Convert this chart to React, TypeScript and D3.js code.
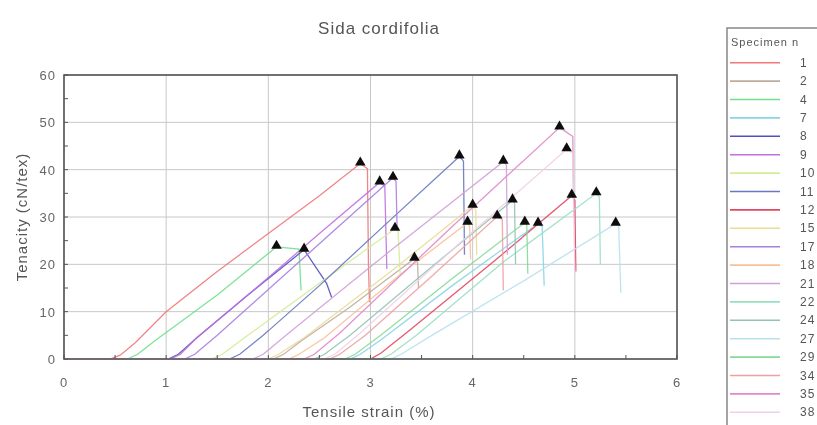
import React from 'react'
import * as d3 from 'd3'

// specimen numbers, legend order
const specimens = ['1', '2', '4', '7', '8', '9', '10', '11', '12', '15', '17', '18', '21', '22', '24', '27', '29', '34', '35', '38']
const colors = ['#f07878', '#c0ac9c', '#70e08c', '#88d4e4', '#5050c0', '#c070e0', '#d4ec98', '#6878c0', '#e04860', '#e8dc98',
  '#a880e0', '#f8c098', '#d0a0d8', '#98e0c0', '#90c4b4', '#b8e0f0', '#88d898', '#f0a0a0', '#e088c8', '#f0d0e8']

// [strain %, tenacity cN/tex]
const s1 = [[0, 0], [0.45, 0], [0.55, 0.8], [0.7, 3.5], [1.0, 10], [1.5, 18.5], [2.0, 26.5], [2.5, 34.5], [2.9, 41.3], [2.97, 40.2], [2.98, 20], [2.99, 12]]
const s2 = [[0, 0], [2.05, 0], [2.15, 1], [2.3, 3.5], [2.8, 11], [3.43, 21.2], [3.46, 20.5], [3.47, 15]]
const s4 = [[0, 0], [0.62, 0], [0.72, 1], [0.9, 4], [1.5, 13.5], [2.08, 23.7], [2.3, 23.2], [2.32, 14.5]]
const s7 = [[0, 0], [2.8, 0], [2.9, 1], [3.1, 4], [3.8, 15.5], [4.64, 28.6], [4.68, 28], [4.7, 15.5]]
const s8 = [[0, 0], [1.02, 0], [1.12, 1], [1.3, 4.5], [1.8, 13.5], [2.35, 23.1], [2.57, 16], [2.62, 13]]
const s9 = [[0, 0], [1.04, 0], [1.14, 1], [1.3, 4.5], [1.8, 13.5], [2.5, 26.5], [3.09, 37.3], [3.14, 36.5], [3.16, 19]]
const s10 = [[0, 0], [1.45, 0], [1.55, 1], [1.8, 5], [2.5, 16], [3.24, 27.5], [3.27, 27], [3.29, 18]]
const s11 = [[0, 0], [1.62, 0], [1.72, 1], [1.95, 5], [2.5, 15.5], [3.2, 29.5], [3.87, 42.8], [3.91, 41.8], [3.92, 22]]
const s12 = [[0, 0], [3.0, 0], [3.1, 1.2], [3.35, 5.5], [4.2, 20.5], [4.97, 34.5], [5.0, 33.5], [5.01, 18.5]]
const s15 = [[0, 0], [2.0, 0], [2.1, 1], [2.35, 4.5], [3.2, 18.5], [4.0, 32.4], [4.03, 31.5], [4.04, 22]]
const s17 = [[0, 0], [1.18, 0], [1.28, 1], [1.5, 5], [2.3, 20.5], [3.22, 38.3], [3.25, 37.5], [3.26, 28]]
const s18 = [[0, 0], [2.2, 0], [2.3, 1], [2.55, 4.5], [3.3, 18], [3.95, 28.8], [3.97, 28], [3.98, 21]]
const s21 = [[0, 0], [1.85, 0], [1.95, 1], [2.2, 5.5], [3.2, 23], [4.3, 41.7], [4.33, 41], [4.34, 22]]
const s22 = [[0, 0], [3.1, 0], [3.2, 1], [3.45, 5], [4.3, 20.5], [5.21, 35], [5.24, 34.2], [5.25, 20]]
const s24 = [[0, 0], [2.45, 0], [2.55, 1], [2.8, 5], [3.6, 19.5], [4.39, 33.5], [4.41, 33], [4.42, 20]]
const s27 = [[0, 0], [3.2, 0], [3.3, 1], [3.6, 5], [4.5, 16.5], [5.4, 28.6], [5.43, 28], [5.45, 14]]
const s29 = [[0, 0], [2.75, 0], [2.85, 1], [3.1, 5], [3.8, 17], [4.51, 28.8], [4.53, 28.2], [4.54, 18]]
const s34 = [[0, 0], [2.6, 0], [2.7, 1], [2.95, 5], [3.6, 17.5], [4.24, 30.1], [4.29, 29.5], [4.3, 14.5]]
const s35 = [[0, 0], [2.35, 0], [2.45, 1], [2.7, 5.5], [3.8, 28], [4.85, 48.9], [4.9, 48.2], [4.98, 47], [4.99, 30]]
const s38 = [[0, 0], [2.55, 0], [2.65, 1], [2.9, 5.5], [3.9, 25], [4.92, 44.3], [4.98, 43.5], [5.0, 18]]

const curves = [s1, s2, s4, s7, s8, s9, s10, s11, s12, s15, s17, s18, s21, s22, s24, s27, s29, s34, s35, s38]

const xTicks = [0, 1, 2, 3, 4, 5, 6]
const yTicks = [0, 10, 20, 30, 40, 50, 60]
const xMinor = [0.5, 1.5, 2.5, 3.5, 4.5, 5.5]
const yMinor = [5, 15, 25, 35, 45, 55]

const W = 817, H = 425
const font = '"Liberation Sans", Arial, sans-serif'

export default function App() {
  const x = d3.scaleLinear([0, 6], [64, 677])
  const y = d3.scaleLinear([0, 60], [359, 75])
  const line = d3.line<number[]>().x(d => x(d[0])).y(d => y(d[1]))
  const tri = d3.symbol(d3.symbolTriangle, 48)()
  const [x0, x1] = x.range()
  const [y0, y1] = y.range()

  return (
    <svg width={W} height={H} style={{ position: 'absolute', left: 0, top: 0, background: '#fff' }} fontFamily={font}>
      <defs>
        <filter id="soft" x="-5%" y="-5%" width="110%" height="110%">
          <feGaussianBlur stdDeviation="0.45" />
        </filter>
      </defs>
      <g filter="url(#soft)">
        <text x={379} y={34} textAnchor="middle" fontSize={17} letterSpacing={1} fill="#555">Sida cordifolia</text>

        {/* grid */}
        {xTicks.map(t => <line key={'gx' + t} x1={x(t)} x2={x(t)} y1={y1} y2={y0} stroke="#c8c8c8" />)}
        {yTicks.map(t => <line key={'gy' + t} x1={x0} x2={x1} y1={y(t)} y2={y(t)} stroke="#c8c8c8" />)}

        {/* curves */}
        {curves.map((c, i) => (
          <path key={specimens[i]} d={line(c) || ''} fill="none" stroke={colors[i]} strokeWidth={1.3} strokeOpacity={0.9} />
        ))}
        {curves.map((c, i) => {
          const p = d3.greatest(c, d => d[1])!
          return <path key={'m' + i} d={tri || ''} transform={`translate(${x(p[0])},${y(p[1]) - 1})`} fill="#111" />
        })}

        {/* frame + ticks */}
        <rect x={x0} y={y1} width={x1 - x0} height={y0 - y1} fill="none" stroke="#555" strokeWidth={1.6} />
        {xTicks.concat(xMinor).map(t => <line key={'tx' + t} x1={x(t)} x2={x(t)} y1={y0} y2={y0 - 4} stroke="#555" />)}
        {yTicks.concat(yMinor).map(t => <line key={'ty' + t} x1={x0} x2={x0 + 4} y1={y(t)} y2={y(t)} stroke="#555" />)}
        {xTicks.map(t => <text key={'lx' + t} x={x(t)} y={387} textAnchor="middle" fontSize={13} letterSpacing={1} fill="#666">{t}</text>)}
        {yTicks.map(t => <text key={'ly' + t} x={56} y={y(t) + 5} textAnchor="end" fontSize={13} letterSpacing={1} fill="#666">{t}</text>)}

        <text x={369} y={417} textAnchor="middle" fontSize={15} letterSpacing={1} fill="#555">Tensile strain (%)</text>
        <text transform="translate(27,217) rotate(-90)" textAnchor="middle" fontSize={15} letterSpacing={1} fill="#555">Tenacity (cN/tex)</text>

        {/* legend */}
        <rect x={727} y={28} width={120} height={420} fill="#fff" stroke="#888" strokeWidth={1.5} />
        <text x={731} y={46} fontSize={11} letterSpacing={1} fill="#555">Specimen n</text>
        {specimens.map((s, i) => {
          const ly = 62.7 + i * 18.4
          return (
            <g key={'lg' + s}>
              <line x1={730} x2={780} y1={ly} y2={ly} stroke={colors[i]} strokeWidth={1.6} />
              <text x={800} y={ly + 4} fontSize={12} letterSpacing={1} fill="#555">{s}</text>
            </g>
          )
        })}
      </g>
    </svg>
  )
}
